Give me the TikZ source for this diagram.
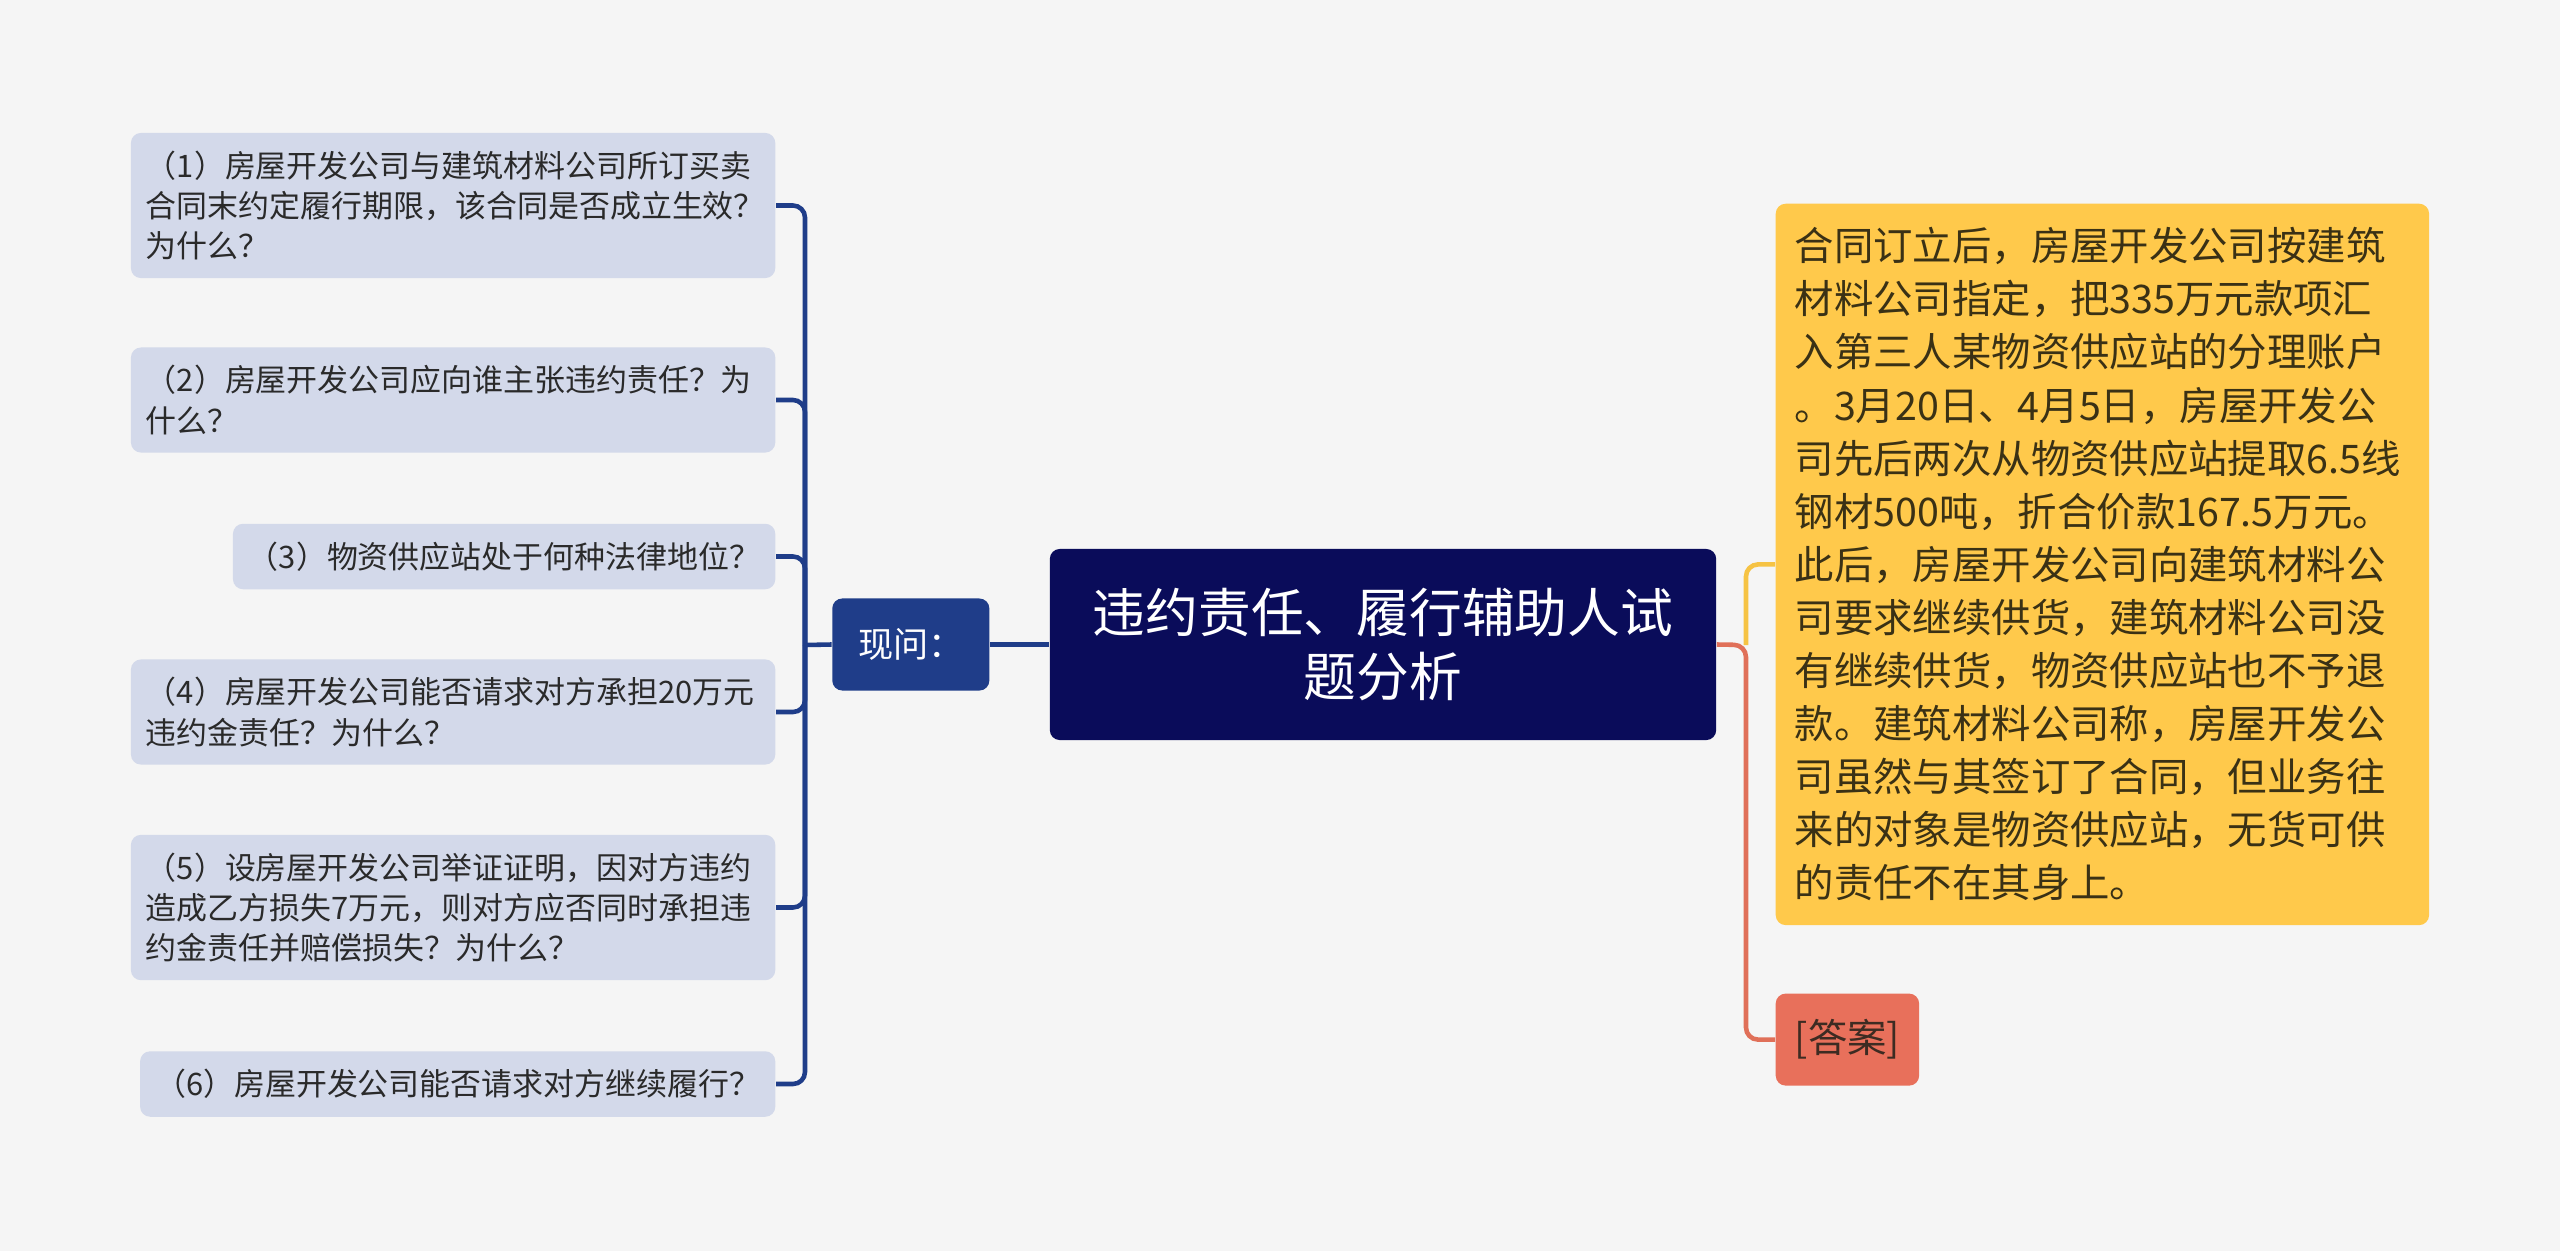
\documentclass[tikz,border=0pt]{standalone}
\usepackage{fontspec}
\setmainfont{Noto Sans CJK SC}
\usetikzlibrary{positioning}

\definecolor{bgcol}{HTML}{F5F5F5}
\definecolor{rootblue}{HTML}{0A0C5A}
\definecolor{askblue}{HTML}{1F3D89}
\definecolor{qfill}{HTML}{D3D9EA}
\definecolor{qtext}{HTML}{2A2A2A}
\definecolor{factyellow}{HTML}{FFC94B}
\definecolor{facttext}{HTML}{3A3115}
\definecolor{ansred}{HTML}{E8705B}
\definecolor{anstext}{HTML}{3D2B22}
\definecolor{linered}{HTML}{E07059}
\definecolor{lineyellow}{HTML}{F6C344}

\tikzset {
  % connector lines
  link/.style = {
    line width = 1.3pt,
    rounded corners = 0.12cm
  },
  qlink/.style = {
    link,
    draw = askblue
  },
  alink/.style = {
    link,
    draw = linered
  },
  flink/.style = {
    link,
    draw = lineyellow
  }
}
\tikzset {
  box node/.style = {
    rounded corners = 0.1cm,
    inner ysep = 0.18cm
  },
  % central topic
  root/.style = {
    box node,
    fill = rootblue,
    text = white,
    align = center,
    text width = 6.2cm,
    inner xsep = 0.23cm,
    inner ysep = 0pt,
    minimum height = 1.91cm,
    font = \fontsize{15pt}{18.1pt}\selectfont
  },
  ask/.style = {
    box node,
    fill = askblue,
    text = white,
    minimum width = 1.57cm,
    minimum height = 0.92cm,
    font = \fontsize{10pt}{12pt}\selectfont
  },
  % question on the left
  question/.style = {
    box node,
    fill = qfill,
    text = qtext,
    anchor = east,
    align = left,
    inner xsep = 0.15cm,
    font = \fontsize{8.8pt}{11.4pt}\selectfont
  },
  qwide/.style = {
    question,
    text width = 6.14cm
  },
  fact/.style = {
    box node,
    fill = factyellow,
    text = facttext,
    anchor = north west,
    align = left,
    text width = 6.15cm,
    inner xsep = 0.19cm,
    inner ysep = 0.2cm,
    minimum height = 7.21cm,
    font = \fontsize{11.2pt}{15.1pt}\selectfont
  },
  answer/.style = {
    box node,
    fill = ansred,
    text = anstext,
    minimum height = 0.92cm,
    inner xsep = 0.19cm,
    font = \fontsize{11.2pt}{13pt}\selectfont
  },
  node distance = 0.59cm
}

\begin{document}
\begin{tikzpicture}[x=0.01cm, y=-0.01cm]
  \useasboundingbox (0,0) rectangle (2560,1251);
  \fill[bgcol] (0,0) rectangle (2560,1251);

  \node[root] (root) at (1383,644.5) {违约责任、履行辅助人试\\题分析};
  \node[ask] (ask) [left=of root] {现问：};

  \node[qwide] (q1) at (776,205.5) {（1）房屋开发公司与建筑材料公司所订买卖\\合同末约定履行期限，该合同是否成立生效？\\为什么？};
  \node[qwide] (q2) at (776,400) {（2）房屋开发公司应向谁主张违约责任？为\\什么？};
  \node[question] (q3) at (776,556.5) {（3）物资供应站处于何种法律地位？};
  \node[qwide] (q4) at (776,712) {（4）房屋开发公司能否请求对方承担20万元\\违约金责任？为什么？};
  \node[qwide] (q5) at (776,907.5) {（5）设房屋开发公司举证证明，因对方违约\\造成乙方损失7万元，则对方应否同时承担违\\约金责任并赔偿损失？为什么？};
  \node[question] (q6) at (776,1084) {（6）房屋开发公司能否请求对方继续履行？};

  \node[fact] (fact) at (1775,203) {合同订立后，房屋开发公司按建筑\\材料公司指定，把335万元款项汇\\入第三人某物资供应站的分理账户\\。3月20日、4月5日，房屋开发公\\司先后两次从物资供应站提取6.5线\\钢材500吨，折合价款167.5万元。\\此后，房屋开发公司向建筑材料公\\司要求继续供货，建筑材料公司没\\有继续供货，物资供应站也不予退\\款。建筑材料公司称，房屋开发公\\司虽然与其签订了合同，但业务往\\来的对象是物资供应站，无货可供\\的责任不在其身上。};
  \node[answer, below right=0.67cm and 0cm of fact.south west] (ans) {[答案]};

  \coordinate (busL) at (805,645);
  \coordinate (busR) at (1746,645);

  \draw[qlink] (root.west) -- (ask.east);
  \draw[qlink] (ask.west) -- (busL);
  \foreach \q in {q1,q2,q3,q4,q5,q6}
    \draw[qlink] (busL) |- (\q.east);

  \draw[alink] (root.east) -- (busR) |- (ans.west);
  \draw[flink] (busR) |- (fact.west);
\end{tikzpicture}
\end{document}
